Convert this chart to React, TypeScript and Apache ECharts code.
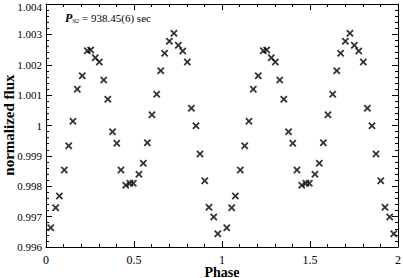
import React, { useEffect, useRef } from "react";
import * as echarts from "echarts";

const phases = [
  0.027, 0.055, 0.076, 0.104, 0.129, 0.153, 0.178, 0.206, 0.235, 0.254,
  0.28, 0.303, 0.328, 0.351, 0.378, 0.402, 0.426, 0.453, 0.477, 0.496,
  0.528, 0.553, 0.576, 0.602, 0.629, 0.652, 0.674, 0.701, 0.727, 0.752,
  0.777, 0.803, 0.826, 0.852, 0.875, 0.902, 0.926, 0.953, 0.976,
];
const flux = [
  0.996635, 0.997294, 0.997679, 0.998535, 0.999335, 1.000138, 1.001192, 1.00164, 1.002463, 1.002486,
  1.002232, 1.002091, 1.001498, 1.000863, 0.999796, 0.999414, 0.998535, 0.998031, 0.998097, 0.998097,
  0.998393, 0.998756, 0.999434, 1.000356, 1.001027, 1.001804, 1.002377, 1.002772, 1.003035, 1.00264,
  1.002453, 1.002091, 1.000566, 0.999993, 0.999062, 0.998183, 0.997307, 0.996988, 0.996438,
];
const cycles = [0, 1];
const xTickLabels = ["0", "0.5", "1", "1.5", "2"];

const FONT = "'Liberation Serif', 'DejaVu Serif', serif";

const xMarker =
  "path://M0,1.7L1.7,0L5,3.3L8.3,0L10,1.7L6.7,5L10,8.3L8.3,10L5,6.7L1.7,10L0,8.3L3.3,5Z";

export default function App() {
  const ref = useRef<HTMLDivElement>(null);
  useEffect(() => {
    if (!ref.current) return;
    const chart = echarts.init(ref.current, undefined, { renderer: "svg" });
    const data: number[][] = [];
    cycles.forEach((c) => {
      phases.forEach((p, i) => data.push([p + c, flux[i]]));
    });
    const yFmt = (v: number) => {
      let s = v.toFixed(3);
      s = s.replace(/0+$/, "").replace(/\.$/, "");
      if (v > 1.0035) return "{top|" + s + "}";
      return s;
    };
    const xFmt = (v: number) => {
      const idx = Math.round(v / 0.5);
      return xTickLabels[idx] ?? String(v);
    };
    const common = {
      axisLine: { show: true, onZero: false, lineStyle: { color: "#000", width: 1 } },
      axisTick: { show: true, inside: true, length: 6, lineStyle: { color: "#000", width: 1 } },
      minorTick: { show: true, splitNumber: 5, length: 3, lineStyle: { color: "#000", width: 1 } },
      splitLine: { show: false },
    };
    chart.setOption({
      animation: false,
      backgroundColor: "#fff",
      grid: { left: 46, right: 5, top: 4, bottom: 31, containLabel: false, outerBoundsMode: "none" },
      xAxis: [
        {
          type: "value",
          min: 0,
          max: 2,
          interval: 0.5,
          position: "bottom",
          ...common,
          axisLabel: {
            color: "#000",
            fontFamily: FONT,
            fontSize: 12,
            lineHeight: 11,
            margin: 7,
            showMinLabel: true,
            showMaxLabel: true,
            alignMaxLabel: "center",
            hideOverlap: false,
            formatter: xFmt,
          },
        },
        {
          type: "value",
          min: 0,
          max: 2,
          interval: 0.5,
          position: "top",
          ...common,
          axisLabel: { show: false },
        },
      ],
      yAxis: [
        {
          type: "value",
          min: 0.996,
          max: 1.004,
          interval: 0.001,
          position: "left",
          ...common,
          axisLabel: {
            color: "#000",
            fontFamily: FONT,
            fontSize: 11,
            margin: 4,
            showMinLabel: true,
            showMaxLabel: true,
            formatter: yFmt,
            rich: {
              top: { fontFamily: FONT, fontSize: 11, color: "#000", padding: [6, 0, 0, 0] },
            },
          },
        },
        {
          type: "value",
          min: 0.996,
          max: 1.004,
          interval: 0.001,
          position: "right",
          ...common,
          axisLabel: { show: false },
        },
      ],
      series: [
        {
          type: "scatter",
          xAxisIndex: 0,
          yAxisIndex: 0,
          data,
          symbol: xMarker,
          symbolSize: 7.5,
          itemStyle: { color: "#000" },
        },
      ],
      graphic: [
        {
          type: "text",
          left: 65,
          top: 12,
          style: {
            text: "{p|P}{s|92}{t| = 938.45(6) sec}",
            rich: {
              p: { fontFamily: FONT, fontStyle: "italic", fontWeight: "bold", fontSize: 12, fill: "#000" },
              s: { fontFamily: FONT, fontStyle: "italic", fontSize: 7, fill: "#000", padding: [6, 0, 0, 0] },
              t: { fontFamily: FONT, fontSize: 11, fill: "#000" },
            },
          },
        },
        {
          type: "text",
          x: 222,
          y: 272,
          style: {
            text: "Phase",
            fontFamily: FONT,
            fontSize: 14,
            lineHeight: 12,
            fontWeight: "bold",
            fill: "#000",
            align: "center",
            verticalAlign: "middle",
          },
        },
        {
          type: "text",
          x: 9,
          y: 125,
          rotation: Math.PI / 2,
          style: {
            text: "normalized flux",
            fontFamily: FONT,
            fontSize: 15,
            fontWeight: "bold",
            fill: "#000",
            align: "center",
            verticalAlign: "middle",
          },
        },
      ],
    });
    return () => chart.dispose();
  }, []);
  return (
    <div
      ref={ref}
      style={{ position: "fixed", left: 0, top: 0, width: 403, height: 278 }}
    />
  );
}
